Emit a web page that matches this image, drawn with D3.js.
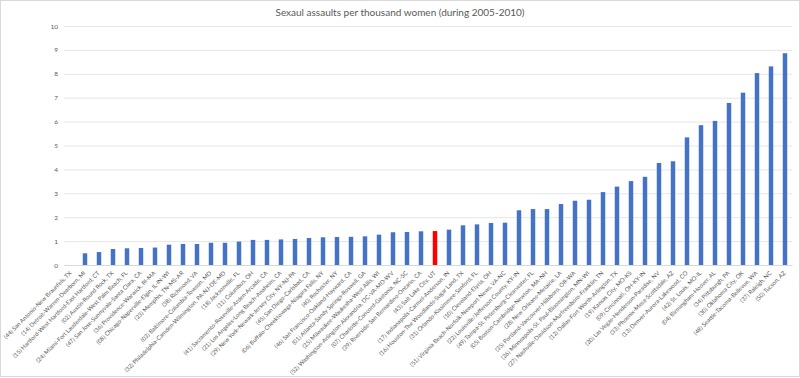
<!DOCTYPE html>
<html><head><meta charset="utf-8">
<script src="https://cdn.jsdelivr.net/npm/d3@7"></script>
<style>body{margin:0;background:#fff;} svg{display:block;}</style>
</head><body><svg id="c" width="800" height="378"></svg>
<script>
const title = "Sexaul assaults per thousand women (during 2005-2010)";
const categories = [
"(44) San Antonio-New Braunfels, TX","(14) Detroit-Warren-Dearborn, MI","(15) Hartford-West Hartford-East Hartford, CT",
"(02) Austin-Round Rock, TX","(24) Miami-Fort Lauderdale-West Palm Beach, FL","(47) San Jose-Sunnyvale-Santa Clara, CA",
"(36) Providence-Warwick, RI-MA","(08) Chicago-Naperville-Elgin, IL-IN-WI","(23) Memphis, TN-MS-AR","(38) Richmond, VA",
"(03) Baltimore-Columbia-Towson, MD","(32) Philadelphia-Camden-Wilmington, PA-NJ-DE-MD","(18) Jacksonville, FL",
"(11) Columbus, OH","(41) Sacramento-Roseville-Arden-Arcade, CA","(21) Los Angeles-Long Beach-Anaheim, CA",
"(29) New York-Newark-Jersey City, NY-NJ-PA","(45) San Diego-Carlsbad, CA","(06) Buffalo-Cheektowaga-Niagara Falls, NY",
"(40) Rochester, NY","(46) San Francisco-Oakland-Hayward, CA","(01) Atlanta-Sandy Springs-Roswell, GA",
"(25) Milwaukee-Waukesha-West Allis, WI","(52) Washington-Arlington-Alexandria, DC-VA-MD-WV","(07) Charlotte-Concord-Gastonia, NC-SC",
"(39) Riverside-San Bernardino-Ontario, CA","(43) Salt Lake City, UT","(17) Indianapolis-Carmel-Anderson, IN",
"(16) Houston-The Woodlands-Sugar Land, TX","(31) Orlando-Kissimmee-Sanford, FL","(10) Cleveland-Elyria, OH",
"(51) Virginia Beach-Norfolk-Newport News, VA-NC","(22) Louisville/Jefferson County, KY-IN","(49) Tampa-St. Petersburg-Clearwater, FL",
"(05) Boston-Cambridge-Newton, MA-NH","(28) New Orleans-Metairie, LA","(35) Portland-Vancouver-Hillsboro, OR-WA",
"(26) Minneapolis-St. Paul-Bloomington, MN-WI","(27) Nashville-Davidson-Murfreesboro-Franklin, TN","(12) Dallas-Fort Worth-Arlington, TX",
"(19) Kansas City, MO-KS","(09) Cincinnati, OH-KY-IN","(20) Las Vegas-Henderson-Paradise, NV","(33) Phoenix-Mesa-Scottsdale, AZ",
"(13) Denver-Aurora-Lakewood, CO","(42) St. Louis, MO-IL","(04) Birmingham-Hoover, AL","(34) Pittsburgh, PA",
"(30) Oklahoma City, OK","(48) Seattle-Tacoma-Bellevue, WA","(37) Raleigh, NC","(50) Tucson, AZ"];
const values = [0,0.49,0.54,0.67,0.70,0.71,0.73,0.85,0.88,0.88,0.93,0.93,0.98,1.05,1.05,1.07,1.09,1.13,1.16,1.17,1.18,1.20,1.27,1.37,1.38,1.41,1.42,1.48,1.66,1.70,1.76,1.77,2.29,2.34,2.34,2.55,2.69,2.73,3.05,3.28,3.51,3.69,4.27,4.34,5.34,5.85,6.03,6.78,7.21,8.03,8.31,8.86];
const highlighted = ["(43) Salt Lake City, UT"];
const yTicks = [0,1,2,3,4,5,6,7,8,9,10];

const svg = d3.select("#c");
const font = "Lato, 'Liberation Sans', sans-serif";
svg.append("rect").attr("x",0.5).attr("y",0.5).attr("width",799).attr("height",376)
  .attr("fill","#fff").attr("stroke","#d9d9d9");

const x = d3.scaleBand().domain(categories).range([64,792]).paddingInner(0.68).paddingOuter(0.34);
const y = d3.scaleLinear().domain([0,10]).range([265,26]);

svg.append("text").attr("x",400).attr("y",16).attr("text-anchor","middle")
  .attr("font-family",font).attr("font-size",10).attr("fill","#595959").text(title);

const gy = svg.append("g").attr("transform","translate(64,0)")
  .call(d3.axisLeft(y).tickValues(yTicks).tickSize(-728).tickPadding(6));
gy.select(".domain").remove();
gy.selectAll(".tick line").attr("stroke","#e6e6e6").attr("stroke-width",1);
gy.selectAll(".tick text").attr("font-family",font).attr("font-size",6.5).attr("fill","#595959");

svg.append("g").selectAll("rect").data(categories).join("rect")
  .attr("x",d=>x(d)).attr("width",x.bandwidth())
  .attr("y",(d,i)=>y(values[i])).attr("height",(d,i)=>y(0)-y(values[i]))
  .attr("fill",d=>highlighted.includes(d)?"#ff0000":"#4472c4");

const gx = svg.append("g").attr("transform","translate(0,265)")
  .call(d3.axisBottom(x).tickSize(0).tickPadding(0));
gx.select(".domain").attr("stroke","#d9d9d9");
gx.selectAll(".tick text").attr("font-family",font).attr("font-size",5.9).attr("fill","#595959")
  .attr("text-anchor","end").attr("dy",null).attr("y",null)
  .attr("transform","translate(1,8.5) rotate(-45)");
</script></body></html>
